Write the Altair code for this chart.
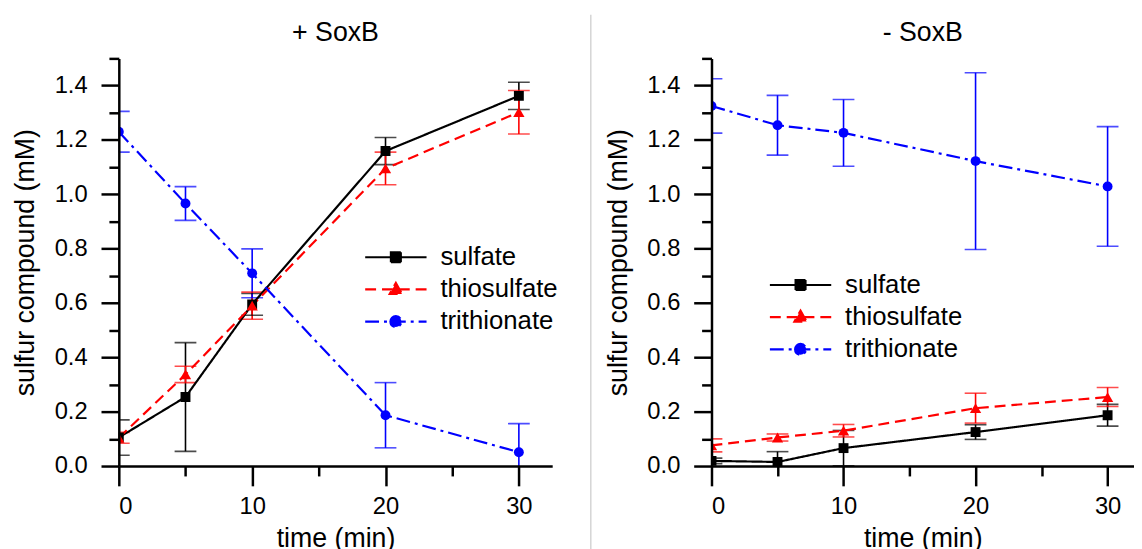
import altair as alt
import pandas as pd

FONT = "Liberation Sans"

# ---- data ----
time = [0, 5, 10, 20, 30]
series_names = ["sulfate", "thiosulfate", "trithionate"]
series_colors = ["#000000", "#ff0000", "#0000ff"]

plus_sulfate = [0.105, 0.254, 0.595, 1.159, 1.362]
plus_sulfate_err = [0.065, 0.200, 0.040, 0.050, 0.050]
plus_thio = [0.104, 0.337, 0.590, 1.095, 1.302]
plus_thio_err = [0.020, 0.030, 0.050, 0.060, 0.080]
plus_tri = [1.230, 0.966, 0.709, 0.187, 0.051]
plus_tri_err = [0.075, 0.062, 0.090, 0.120, 0.105]

minus_sulfate = [0.019, 0.015, 0.066, 0.125, 0.187]
minus_sulfate_err = [0.010, 0.038, 0.065, 0.027, 0.040]
minus_thio = [0.076, 0.105, 0.130, 0.213, 0.254]
minus_thio_err = [0.024, 0.013, 0.023, 0.055, 0.035]
minus_tri = [1.325, 1.254, 1.226, 1.122, 1.029]
minus_tri_err = [0.100, 0.110, 0.123, 0.325, 0.220]

x_tick_values = [0, 5, 10, 15, 20, 25, 30]
y_tick_values = [0.0, 0.1, 0.2, 0.3, 0.4, 0.5, 0.6, 0.7, 0.8, 0.9, 1.0, 1.1, 1.2, 1.3, 1.4, 1.5]


def make_df(groups):
    rows = []
    for name, vals, errs in groups:
        for t, v, e in zip(time, vals, errs):
            rows.append({"series": name, "time": t, "value": v, "lo": v - e, "hi": v + e})
    return pd.DataFrame(rows)


df_plus = make_df([("sulfate", plus_sulfate, plus_sulfate_err),
                   ("thiosulfate", plus_thio, plus_thio_err),
                   ("trithionate", plus_tri, plus_tri_err)])
df_minus = make_df([("sulfate", minus_sulfate, minus_sulfate_err),
                    ("thiosulfate", minus_thio, minus_thio_err),
                    ("trithionate", minus_tri, minus_tri_err)])

# legend symbols: line segment + marker (custom SVG paths)
legend_paths = [
    "M-3.1,0L3.1,0M-0.5,-0.5L0.5,-0.5L0.5,0.5L-0.5,0.5Z",
    "M-3.1,0L3.1,0M0,-0.65L0.62,0.45L-0.62,0.45Z",
    "M-3.1,0L3.1,0M-0.55,0A0.55,0.55,0,1,1,0.55,0A0.55,0.55,0,1,1,-0.55,0Z",
]
dash_range = [[1, 0], [11, 6], [14, 5, 3, 5]]
marker_shapes = ["square", "triangle-up", "circle"]
marker_sizes = [100, 130, 100]

color_scale = alt.Scale(domain=series_names, range=series_colors)
dash_scale = alt.Scale(domain=series_names, range=dash_range)
shape_scale = alt.Scale(domain=series_names, range=legend_paths)


def panel(df, title, width, xmax, lx, ly):
    xs = alt.Scale(domain=[0, xmax], nice=False, zero=False)
    ys = alt.Scale(domain=[0, 1.5], nice=False)
    xaxis = alt.Axis(values=x_tick_values, title="time (min)", grid=False, zindex=1,
                     labelExpr="datum.value % 10 === 0 ? datum.label : ''",
                     tickSize={"condition": {"test": "datum.value % 10 === 0", "value": 20}, "value": 10},
                     labelPadding=9, titlePadding=7)
    yaxis = alt.Axis(values=y_tick_values, title="sulfur compound (mM)", grid=False, format=".1f", zindex=1,
                     labelExpr="round(datum.value*10) % 2 === 0 ? datum.label : ''",
                     tickSize={"condition": {"test": "round(datum.value*10) % 2 === 0", "value": 18}, "value": 10},
                     labelPadding=14, titlePadding=15)
    leg = alt.Legend(orient="none", legendX=lx, legendY=ly, title=None, direction="vertical",
                     symbolSize=400, symbolStrokeWidth=2.2, symbolOpacity=1,
                     labelFontSize=26, labelFont=FONT, labelColor="black",
                     labelOffset=32, rowPadding=6.5, padding=0)
    X = alt.X("time:Q", scale=xs, axis=xaxis)

    def Y(f):
        return alt.Y(f"{f}:Q", scale=ys, axis=yaxis)

    stroke = alt.Stroke("series:N", scale=color_scale, legend=leg)
    fill = alt.Fill("series:N", scale=color_scale, legend=leg)
    dash = alt.StrokeDash("series:N", scale=dash_scale, legend=leg)
    shape = alt.Shape("series:N", scale=shape_scale, legend=leg)

    base = alt.Chart(df)
    legend_layer = base.mark_point(opacity=0, filled=True).encode(
        x=X, y=Y("value"), fill=fill, stroke=stroke, shape=shape, strokeDash=dash)
    err = base.mark_rule(clip=True, strokeWidth=1.6).encode(x=X, y=Y("lo"), y2="hi:Q", stroke=stroke)
    cap_lo = base.mark_tick(clip=True, orient="horizontal", size=22, thickness=1.6).encode(
        x=X, y=Y("lo"), fill=fill)
    cap_hi = base.mark_tick(clip=True, orient="horizontal", size=22, thickness=1.6).encode(
        x=X, y=Y("hi"), fill=fill)
    lines = base.mark_line(strokeWidth=2.2, clip=True).encode(x=X, y=Y("value"), stroke=stroke, strokeDash=dash)
    layers = [legend_layer, err, cap_lo, cap_hi, lines]
    for name, col, shp, sz in zip(series_names, series_colors, marker_shapes, marker_sizes):
        layers.append(base.transform_filter(alt.datum.series == name).mark_point(
            filled=True, shape=shp, size=sz, color=col, opacity=1, clip=True).encode(x=X, y=Y("value")))
    return alt.layer(*layers).properties(
        width=width, height=412,
        title=alt.TitleParams(title, fontSize=27, font=FONT, fontWeight="normal",
                              anchor="middle", offset=10, color="black"))


left = panel(df_plus, "+ SoxB", 438, 32.5, 267, 188)
right = panel(df_minus, "- SoxB", 427, 32.0, 77, 216)

# thin grey separator between the two figures
separator = alt.Chart(pd.DataFrame({"k": [0]})).mark_rule(color="#d4d4d4", strokeWidth=1.5).encode(
    x=alt.value(23), y=alt.value(-44), y2=alt.value(500)
).properties(width=26, height=412)

chart = alt.hconcat(left, separator, right, spacing=10).resolve_scale(
    stroke="independent", fill="independent", shape="independent", strokeDash="independent"
).resolve_legend(
    stroke="independent", fill="independent", shape="independent", strokeDash="independent"
).properties(
    padding={"left": 3, "top": 3, "right": 0, "bottom": 0}
).configure_view(stroke=None).configure_axis(
    labelFont=FONT, titleFont=FONT, labelFontSize=24, titleFontSize=27,
    labelColor="black", titleColor="black", titleFontWeight="normal",
    domainColor="black", tickColor="black", domainWidth=2.5, tickWidth=2.5
)

chart.save("out.html", embed_options={"renderer": "svg", "actions": False})
